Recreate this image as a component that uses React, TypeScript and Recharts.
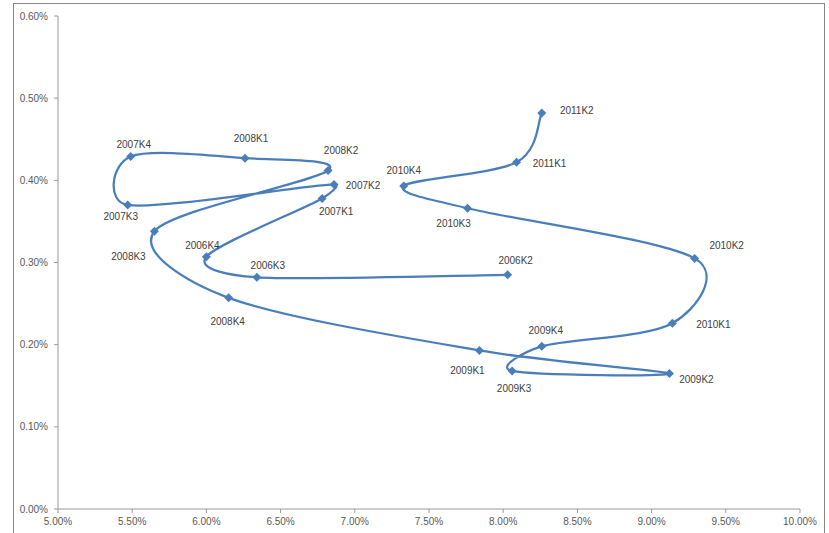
import React from 'react';
import { ScatterChart, Scatter, XAxis, YAxis } from 'recharts';

// quarters, x (%) and y (%)
const quarters = [
  '2006K2', '2006K3', '2006K4', '2007K1', '2007K2', '2007K3', '2007K4',
  '2008K1', '2008K2', '2008K3', '2008K4', '2009K1', '2009K2', '2009K3',
  '2009K4', '2010K1', '2010K2', '2010K3', '2010K4', '2011K1', '2011K2',
];
const xValues = [
  8.03, 6.34, 6.0, 6.78, 6.86, 5.47, 5.49,
  6.26, 6.82, 5.65, 6.15, 7.84, 9.12, 8.06,
  8.26, 9.14, 9.29, 7.76, 7.33, 8.09, 8.26,
];
const yValues = [
  0.285, 0.282, 0.307, 0.378, 0.395, 0.37, 0.429,
  0.427, 0.412, 0.338, 0.257, 0.193, 0.165, 0.168,
  0.198, 0.226, 0.305, 0.366, 0.393, 0.422, 0.482,
];
const xTicks = [5, 5.5, 6, 6.5, 7, 7.5, 8, 8.5, 9, 9.5, 10];
const yTicks = [0, 0.1, 0.2, 0.3, 0.4, 0.5, 0.6];

// label placement relative to each marker (px)
const labelDx = [8, 11, -4, 14, 29, -7, 3, 6, 13, -26, -1, -12, 27, 2, 4, 41, 32, -14, 0, 33, 35];
const labelDy = [-14, -12, -11, 13, 1, 12, -12, -20, -20, 25, 24, 20, 6, 18, -16, 1, -13, 15, -16, 1, -2];

const data = quarters.map((q, i) => ({ name: q, x: xValues[i], y: yValues[i], i }));

const BLUE = '#4A7EBB';
const AXIS = '#9a9a9a';
const FONT = '"Liberation Sans", Arial, sans-serif';

// Excel-like smoothed line: Catmull-Rom tangents, handle length capped by segment length
const smoothCurve = (context: any) => {
  let pts: [number, number][] = [];
  const ctrl = (a: [number, number], b: [number, number], from: [number, number], seg: number, sign: number) => {
    const dx = b[0] - a[0];
    const dy = b[1] - a[1];
    const len = Math.hypot(dx, dy) || 1;
    const h = Math.min(len / 6, seg * 0.45);
    return [from[0] + (sign * dx * h) / len, from[1] + (sign * dy * h) / len];
  };
  return {
    areaStart() {},
    areaEnd() {},
    lineStart() {
      pts = [];
    },
    lineEnd() {
      if (!pts.length) return;
      context.moveTo(pts[0][0], pts[0][1]);
      for (let i = 0; i < pts.length - 1; i++) {
        const p0 = pts[i - 1] || pts[i];
        const p1 = pts[i];
        const p2 = pts[i + 1];
        const p3 = pts[i + 2] || p2;
        const seg = Math.hypot(p2[0] - p1[0], p2[1] - p1[1]);
        const c1 = ctrl(p0, p2, p1, seg, 1);
        const c2 = ctrl(p1, p3, p2, seg, -1);
        context.bezierCurveTo(c1[0], c1[1], c2[0], c2[1], p2[0], p2[1]);
      }
    },
    point(x: number, y: number) {
      pts.push([x, y]);
    },
  };
};

const DiamondWithLabel = (props: any) => {
  const { cx, cy, payload } = props;
  const idx = payload.i;
  const r = 4.5;
  return (
    <g>
      <path d={`M${cx},${cy - r}L${cx + r},${cy}L${cx},${cy + r}L${cx - r},${cy}Z`} fill={BLUE} />
      <text
        x={cx + labelDx[idx]}
        y={cy + labelDy[idx]}
        textAnchor="middle"
        dominantBaseline="central"
        fontSize={10}
        fontFamily={FONT}
        fill="#404040"
      >
        {payload.name}
      </text>
    </g>
  );
};

const fmt = (v: number) => v.toFixed(2) + '%';

export default function App() {
  return (
    <div style={{ position: 'absolute', left: 0, top: 0, width: 829, height: 533, overflow: 'hidden', background: '#fff' }}>
      <div
        style={{
          position: 'absolute',
          left: 13,
          top: 3,
          width: 812,
          height: 545,
          border: '1px solid #868686',
          boxSizing: 'border-box',
        }}
      />
      <div style={{ position: 'absolute', left: 0, top: 0 }}>
        <ScatterChart width={829} height={533} margin={{ top: 16, right: 29, bottom: 0, left: 0 }}>
          <XAxis
            type="number"
            dataKey="x"
            domain={[5, 10]}
            ticks={xTicks}
            tickFormatter={fmt}
            height={24}
            stroke={AXIS}
            tickSize={4}
            tickMargin={5}
            tick={{ fill: '#595959', fontSize: 10, fontFamily: FONT }}
            allowDataOverflow
          />
          <YAxis
            type="number"
            dataKey="y"
            domain={[0, 0.6]}
            ticks={yTicks}
            tickFormatter={fmt}
            width={58}
            stroke={AXIS}
            tickSize={4}
            tickMargin={6}
            tick={{ fill: '#595959', fontSize: 10, fontFamily: FONT }}
            allowDataOverflow
          />
          <Scatter
            data={data}
            line={{ stroke: BLUE, strokeWidth: 2.25 }}
            lineType="joint"
            lineJointType={smoothCurve as any}
            shape={DiamondWithLabel}
            isAnimationActive={false}
          />
        </ScatterChart>
      </div>
    </div>
  );
}
